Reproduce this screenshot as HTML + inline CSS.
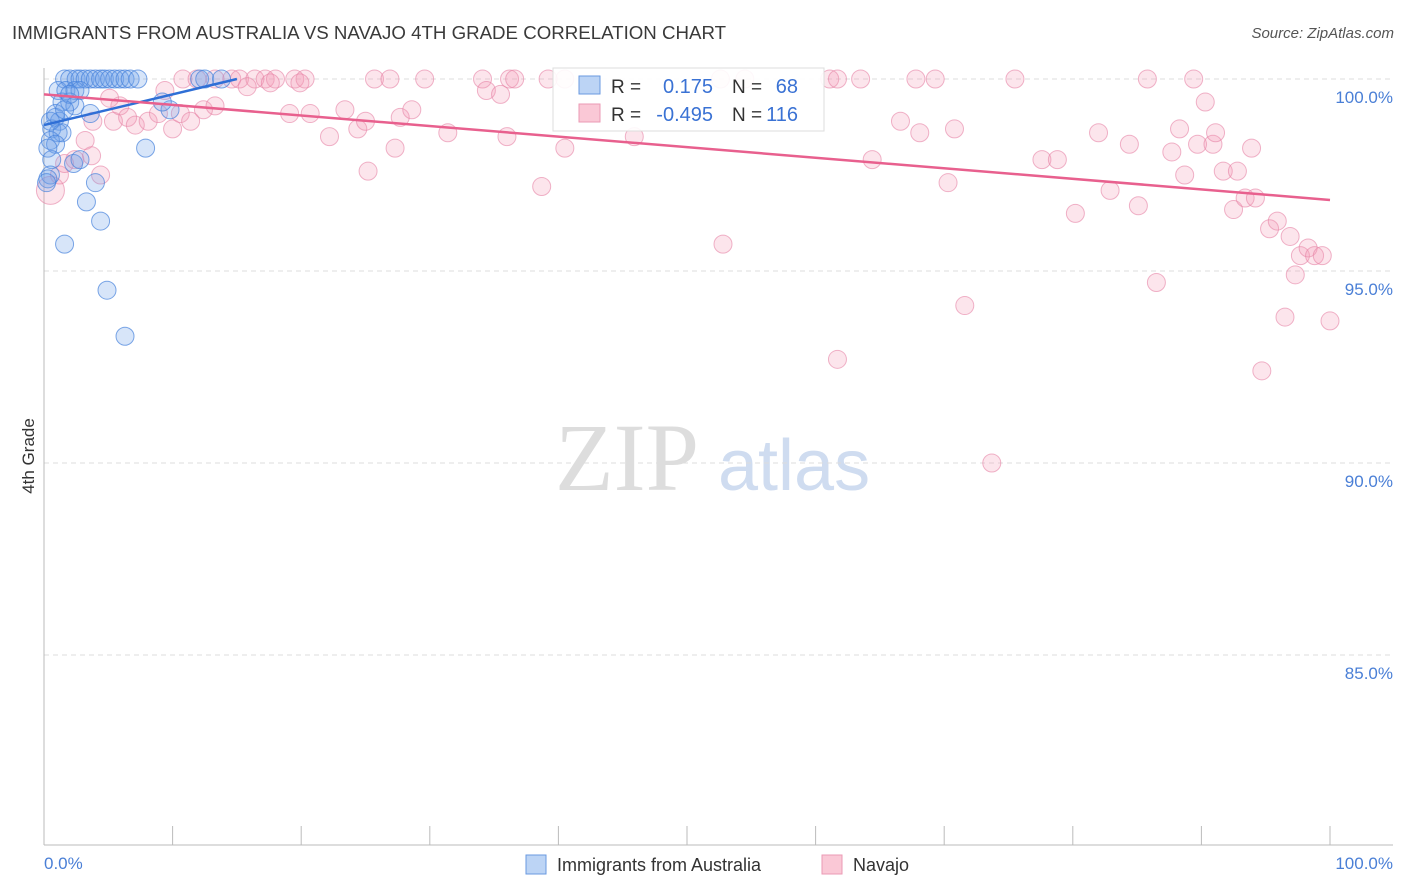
<!DOCTYPE html>
<html><head><meta charset="utf-8"><style>
body{margin:0;background:#fff;font-family:"Liberation Sans",sans-serif;}
#wrap{position:relative;width:1406px;height:892px;}
</style></head><body>
<div id="wrap">
<div style="position:absolute;left:12px;top:22px;font-size:18.7px;color:#3a3a3a;">IMMIGRANTS FROM AUSTRALIA VS NAVAJO 4TH GRADE CORRELATION CHART</div>
<div style="position:absolute;right:12px;top:25px;font-size:15px;color:#555;font-style:italic;">Source: ZipAtlas.com</div>
<svg id="svg" width="1406" height="892" style="position:absolute;left:0;top:0"></svg>
</div>
<script>
const yTicks=[100,95,90,85];
const xTickLabels=["0.0%","100.0%"];
const blueX=[1.6,2.0,2.5,2.8,3.2,3.6,4.0,4.4,4.7,5.1,5.5,5.9,6.3,6.7,7.3,12.1,12.5,13.8,1.1,1.7,2.4,2.8,1.4,2.0,2.4,3.6,0.9,1.2,0.6,1.1,1.4,0.5,0.9,0.3,0.6,0.5,0.3,0.2,2.3,2.8,4.0,3.3,4.4,1.6,4.9,6.3,7.9,9.8,9.2,0.5,0.9,2.0,1.6];
const blueY=[100,100,100,100,100,100,100,100,100,100,100,100,100,100,100,100,100,100,99.7,99.7,99.7,99.7,99.4,99.4,99.3,99.1,99.0,98.9,98.7,98.6,98.6,98.4,98.3,98.2,97.9,97.5,97.4,97.3,97.8,97.9,97.3,96.8,96.3,95.7,94.5,93.3,98.2,99.2,99.4,98.9,99.1,99.6,99.2];
const pinkX=[
10.8,11.9,13.3,14.6,15.2,16.4,17.2,18.0,19.5,20.3,
25.7,26.9,29.6,34.1,36.2,36.6,39.2,40.5,52.6,54.5,
61.1,61.7,63.5,67.8,69.3,75.5,85.8,89.4,
0.5,1.2,1.6,2.4,3.2,3.7,4.4,5.4,5.9,6.5,
7.1,8.1,8.9,9.4,10.0,10.6,11.4,12.4,13.3,15.8,
17.6,19.1,19.9,20.7,22.2,23.4,24.4,25.0,25.2,27.3,
27.7,28.6,31.4,34.4,35.5,36.0,38.7,40.5,45.9,52.8,
61.7,64.4,66.6,68.1,70.3,70.8,71.6,73.7,77.6,78.8,
80.2,82.0,82.9,84.4,85.1,86.5,87.7,88.3,88.7,89.7,
90.3,90.9,91.1,91.7,92.5,92.8,93.4,93.9,94.2,94.7,
95.3,95.9,96.5,96.9,97.3,97.7,98.3,98.8,99.4,100,
3.8,5.1];
const pinkY=[
100,100,100,100,100,100,100,100,100,100,
100,100,100,100,100,100,100,100,100,100,
100,100,100,100,100,100,100,100,
97.1,97.5,97.8,97.9,98.4,98.0,97.5,98.9,99.3,99.0,
98.8,98.9,99.1,99.7,98.7,99.1,98.9,99.2,99.3,99.8,
99.9,99.1,99.9,99.1,98.5,99.2,98.7,98.9,97.6,98.2,
99.0,99.2,98.6,99.7,99.6,98.5,97.2,98.2,98.5,95.7,
92.7,97.9,98.9,98.6,97.3,98.7,94.1,90.0,97.9,97.9,
96.5,98.6,97.1,98.3,96.7,94.7,98.1,98.7,97.5,98.3,
99.4,98.3,98.6,97.6,96.6,97.6,96.9,98.2,96.9,92.4,
96.1,96.3,93.8,95.9,94.9,95.4,95.6,95.4,95.4,93.7,
98.9,99.5];
const blueTrend=[0,98.8,15,100];
const pinkTrend=[0,99.6,100,96.85];
const X=v=>44+v*12.86, Y=v=>79+(100-v)*38.4;
const svg=document.getElementById('svg'),NS='http://www.w3.org/2000/svg';
function mk(t,a,p){const e=document.createElementNS(NS,t);for(const k in a)e.setAttribute(k,a[k]);(p||svg).appendChild(e);return e;}
let w=mk('text',{x:555,y:490,'font-size':96,fill:'#ddd','font-family':'Liberation Serif,serif'});w.textContent='ZIP';


let w2=mk('text',{x:718,y:490,'font-size':72,fill:'#cfdcf0','font-family':'Liberation Sans,sans-serif'});w2.textContent='atlas';


yTicks.forEach(t=>{
 const g=mk('line',{x1:44,x2:1393,y1:Y(t),y2:Y(t),stroke:'#ddd','stroke-dasharray':'5,4'});
 
 
 const l=mk('text',{x:1393,y:Y(t)+24,'text-anchor':'end','font-size':17,fill:'#4a7fd6'});l.textContent=t.toFixed(1)+'%';
 
 
});
mk('line',{x1:44,x2:44,y1:68,y2:845,stroke:'#bbb'});
mk('line',{x1:44,x2:1393,y1:845,y2:845,stroke:'#bbb'});
for(let i=0;i<=10;i++){const t=mk('line',{x1:X(i*10),x2:X(i*10),y1:826,y2:845,stroke:'#bbb'});
 
 }
const xl0=mk('text',{x:44,y:869,'font-size':17,fill:'#4a7fd6'});xl0.textContent=xTickLabels[0];


const xl1=mk('text',{x:1393,y:869,'text-anchor':'end','font-size':17,fill:'#4a7fd6'});xl1.textContent=xTickLabels[1];


const yt=mk('text',{x:34,y:456,'font-size':17,fill:'#333',transform:'rotate(-90 34 456)','text-anchor':'middle'});yt.textContent='4th Grade';


pinkX.forEach((x,i)=>{const c=mk('circle',{cx:X(x),cy:Y(pinkY[i]),r:i==28?14:9,fill:'rgba(244,150,180,0.25)',stroke:'rgba(230,130,165,0.6)'});
 
 });
blueX.forEach((x,i)=>{const c=mk('circle',{cx:X(x),cy:Y(blueY[i]),r:9,fill:'rgba(110,160,235,0.28)',stroke:'rgba(70,130,220,0.7)'});
 
 });
const bl=mk('line',{x1:X(blueTrend[0]),y1:Y(blueTrend[1]),x2:X(blueTrend[2]),y2:Y(blueTrend[3]),stroke:'#2f6fd6','stroke-width':2.5});


const pl=mk('line',{x1:X(pinkTrend[0]),y1:Y(pinkTrend[1]),x2:X(pinkTrend[2]),y2:Y(pinkTrend[3]),stroke:'#e8608e','stroke-width':2.5});


const lg=mk('g',{});


mk('rect',{x:553,y:68,width:271,height:63,fill:'rgba(255,255,255,0.9)',stroke:'#ddd'},lg);
mk('rect',{x:579,y:76,width:21,height:18,fill:'#bcd4f5',stroke:'#6a9ae0'},lg);
mk('rect',{x:579,y:104,width:21,height:18,fill:'#fac8d6',stroke:'#eb9ab4'},lg);
[[93,'R =','0.175','N =','68'],[121,'R =','-0.495','N =','116']].forEach(r=>{
 let a=mk('text',{x:611,y:r[0],'font-size':19,fill:'#333'},lg);a.textContent=r[1];
 let b=mk('text',{x:713,y:r[0],'font-size':20,fill:'#3a72d4','text-anchor':'end'},lg);b.textContent=r[2];
 let c=mk('text',{x:732,y:r[0],'font-size':19,fill:'#333'},lg);c.textContent=r[3];
 let d=mk('text',{x:798,y:r[0],'font-size':20,fill:'#3a72d4','text-anchor':'end'},lg);d.textContent=r[4];
});
const b1=mk('rect',{x:526,y:855,width:20,height:19,fill:'#bcd4f5',stroke:'#6a9ae0'});


const t1=mk('text',{x:557,y:871,'font-size':18,fill:'#333'});t1.textContent='Immigrants from Australia';


const b2=mk('rect',{x:822,y:855,width:20,height:19,fill:'#fac8d6',stroke:'#eb9ab4'});


const t2=mk('text',{x:853,y:871,'font-size':18,fill:'#333'});t2.textContent='Navajo';


</script>
</body></html>
